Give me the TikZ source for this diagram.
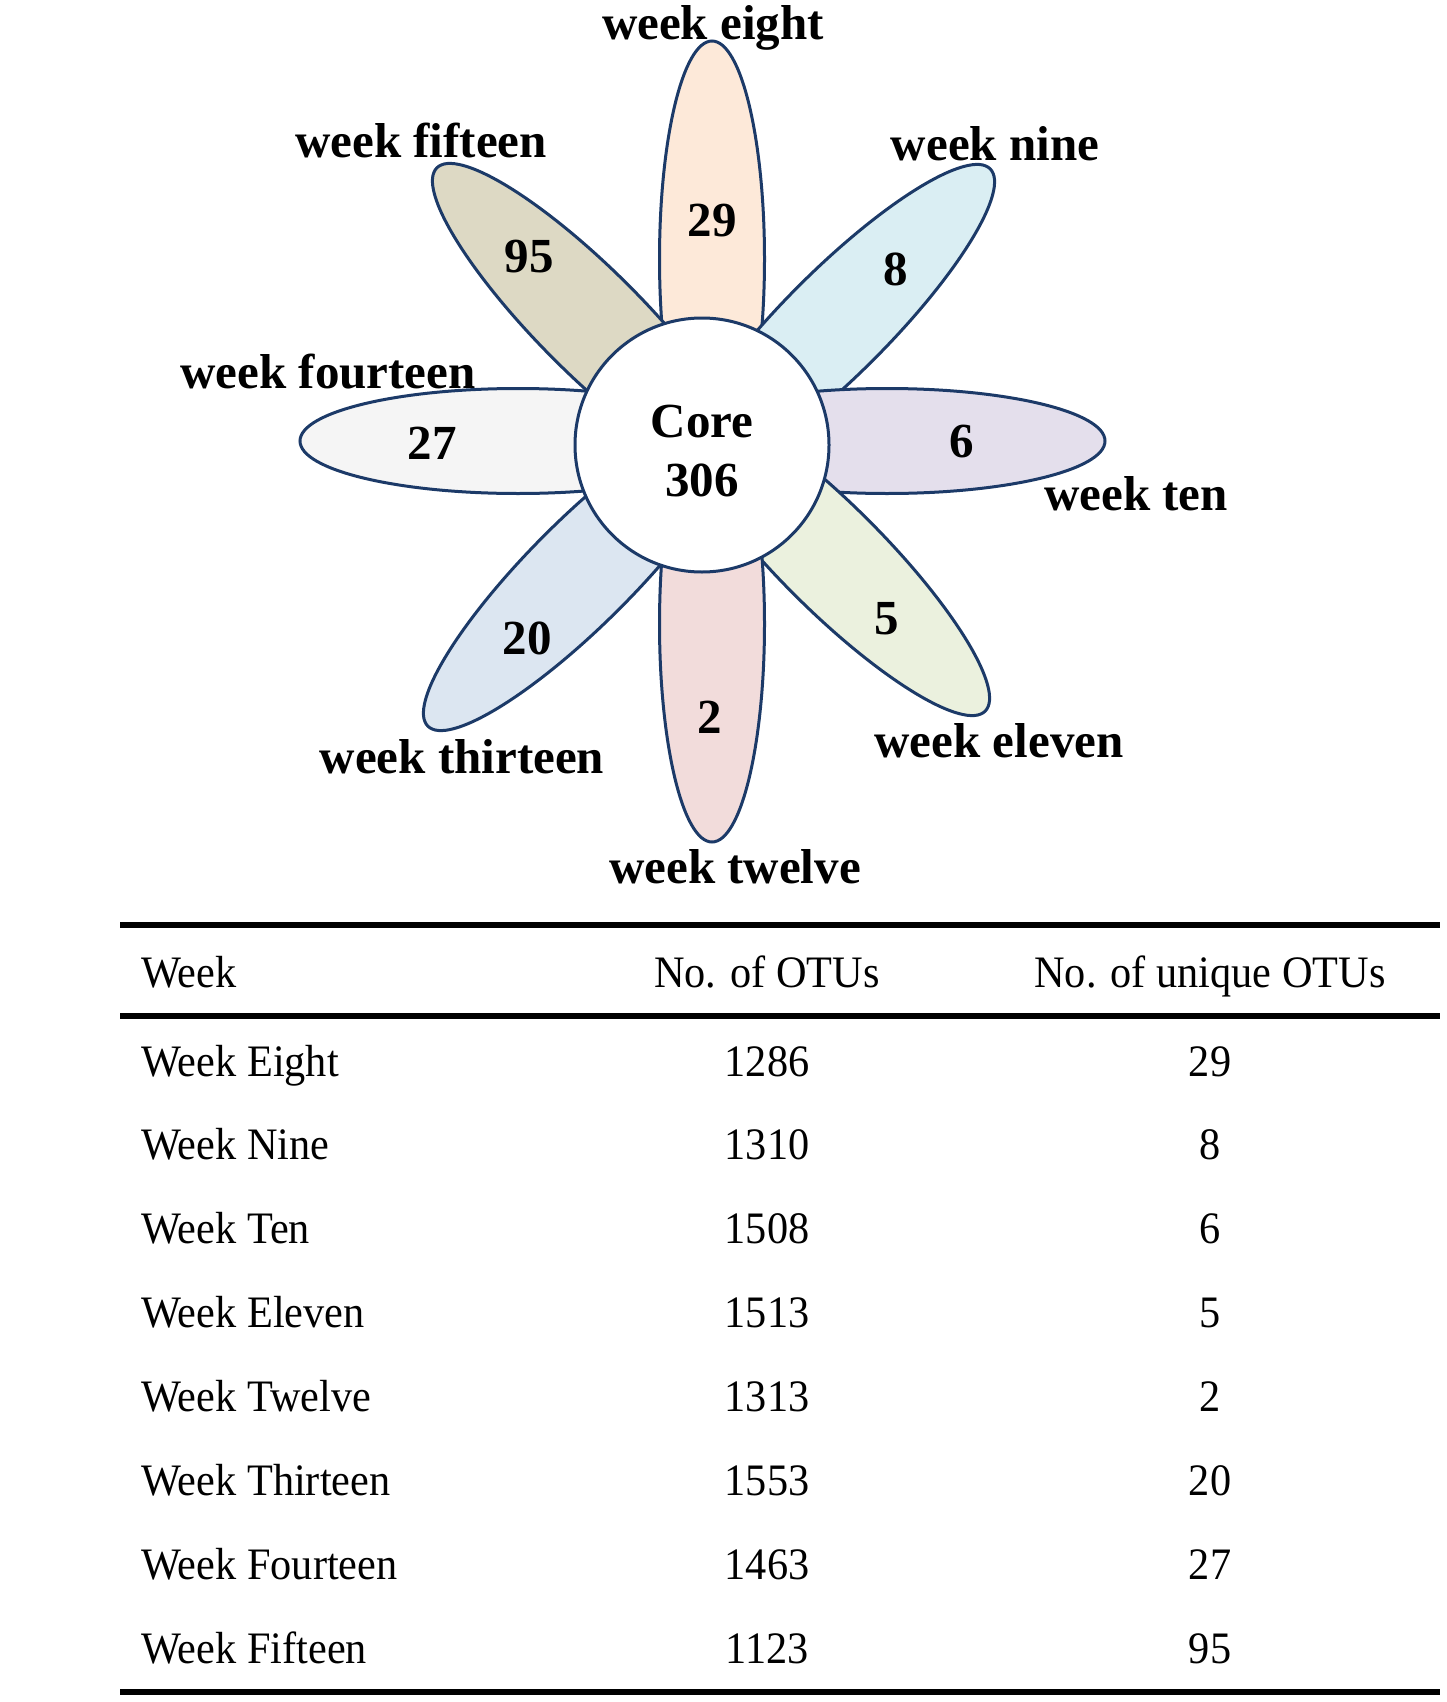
\documentclass[tikz,border=0pt]{standalone}
\usepackage{fontspec}
\setmainfont{Liberation Serif}
\newfontfamily\tabfont[FakeStretch=0.94]{Liberation Serif}
\usetikzlibrary{shapes.geometric}

\definecolor{edge}{HTML}{1C3A68}
\definecolor{ceight}{HTML}{FDE9D9}
\definecolor{cnine}{HTML}{DAEEF3}
\definecolor{cten}{HTML}{E4DFEC}
\definecolor{celeven}{HTML}{EBF1DE}
\definecolor{ctwelve}{HTML}{F2DCDB}
\definecolor{cthirteen}{HTML}{DCE6F1}
\definecolor{cfourteen}{HTML}{F5F5F5}
\definecolor{cfifteen}{HTML}{DDD9C4}

\begin{document}
\begin{tikzpicture}[x=0.5pt, y=-0.5pt,
    petal/.style={ellipse, draw=edge, line width=1.5pt, inner sep=0pt,
      minimum width=218pt, minimum height=52.5pt},
    wk/.style={font=\fontsize{24.5}{29.5}\selectfont\bfseries, anchor=base, inner sep=0pt},
    cell/.style={font=\tabfont\fontsize{22.5}{27}\selectfont, anchor=base, inner sep=0pt},
    rowname/.style={cell, anchor=base west},
    tabrule/.style={line width=3pt}]
    \useasboundingbox (0,0) rectangle (1446,1702);

    % Petals round the core
    \node[petal, fill=ceight, rotate=90] (peight) at (712,259) {};
    \node[petal, fill=cnine, rotate=45] (pnine) at (836,323) {};
    \node[petal, fill=cten] (pten) at (887,441) {};
    \node[petal, fill=celeven, rotate=-45] (peleven) at (831,557) {};
    \node[petal, fill=ctwelve, rotate=90] (ptwelve) at (712,624) {};
    \node[petal, fill=cthirteen, rotate=45] (pthirteen) at (582,572) {};
    \node[petal, fill=cfourteen] (pfourteen) at (518,441) {};
    \node[petal, fill=cfifteen, rotate=-45] (pfifteen) at (591,322) {};

    \node[circle, draw=edge, line width=1.5pt, fill=white, minimum size=127pt,
      inner sep=0pt] (core) at (702,445) {};
    \node[align=center, inner sep=0pt, font=\fontsize{24.5}{29.5}\selectfont\bfseries]
      (coretext) at (702,451) {Core\\306};

    % Unique counts
    \node[wk] (neight) at (712,236) {29};
    \node[wk] (nnine) at (896,285) {8};
    \node[wk] (nten) at (962,457) {6};
    \node[wk] (neleven) at (887,634) {5};
    \node[wk] (ntwelve) at (710,733) {2};
    \node[wk] (nthirteen) at (527,654) {20};
    \node[wk] (nfourteen) at (432,459) {27};
    \node[wk] (nfifteen) at (529,272) {95};

    % Week labels
    \node[wk] (leight) at (713,40) {week eight};
    \node[wk] (lnine) at (995,161) {week nine};
    \node[wk] (lten) at (1136,510) {week ten};
    \node[wk] (leleven) at (999,757) {week eleven};
    \node[wk] (ltwelve) at (735,883) {week twelve};
    \node[wk] (lthirteen) at (462,773) {week thirteen};
    \node[wk] (lfourteen) at (328,388) {week fourteen};
    \node[wk] (lfifteen) at (421,157) {week fifteen};

    % Table
    \draw[tabrule] (120,925) -- (1440,925);
    \draw[tabrule, line width=2.6pt] (120,1016) -- (1440,1016);
    \draw[tabrule, line width=3.4pt] (120,1692) -- (1440,1692);

    \node[rowname] (hweek) at (141,987) {Week};
    \node[cell] (htotal) at (767,987) {No. of OTUs};
    \node[cell] (hunique) at (1210,987) {No. of unique OTUs};

    \foreach \nm/\tot/\uni [count=\i] in {Week Eight/1286/29, Week Nine/1310/8,
        Week Ten/1508/6, Week Eleven/1513/5, Week Twelve/1313/2,
        Week Thirteen/1553/20, Week Fourteen/1463/27, Week Fifteen/1123/95} {
      \node[rowname] (w\i) at (141,1076+83.86*\i-83.86) {\nm};
      \node[cell] (t\i) at (767,1076+83.86*\i-83.86) {\tot};
      \node[cell] (u\i) at (1210,1076+83.86*\i-83.86) {\uni};
    }
\end{tikzpicture}
\end{document}
